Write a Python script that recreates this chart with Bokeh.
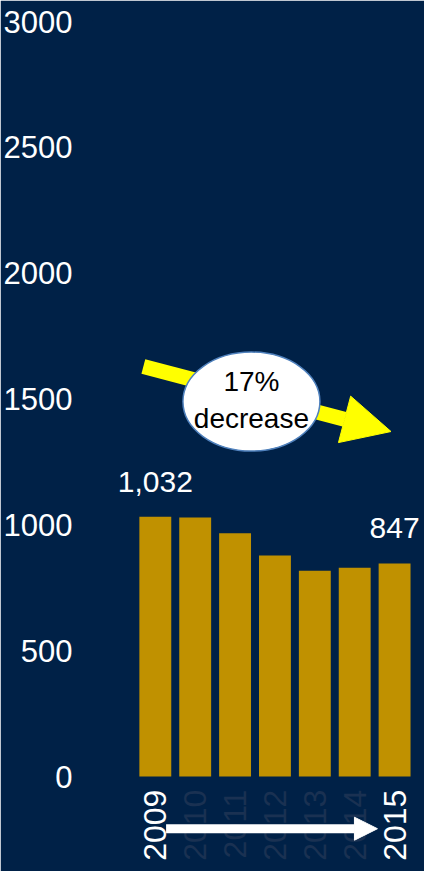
import math
from bokeh.plotting import figure
from bokeh.models import ColumnDataSource, Range1d, FixedTicker, Arrow, NormalHead
from bokeh.core.properties import value
from bokeh.embed import file_html
from bokeh.resources import INLINE

# ---- data ----
years = ["2009", "2010", "2011", "2012", "2013", "2014", "2015"]
counts = [1032, 1029, 967, 878, 818, 830, 847]
highlight = [True, False, False, False, False, False, True]
y_ticks = [0, 500, 1000, 1500, 2000, 2500, 3000]
callout_text = "17%\ndecrease"

BG = "#002147"
GOLD = "#C09100"
DIM = "#1a3152"
FONT = "Liberation Sans"

idx = list(range(len(years)))
src = ColumnDataSource(dict(
    x=idx, top=counts, year=years,
    ycol=["white" if h else DIM for h in highlight],
    vlabel=[f"{c:,}" if h else "" for c, h in zip(counts, highlight)],
))

p = figure(width=424, height=871, output_backend="svg", toolbar_location=None,
           x_range=Range1d(-1.55, 6.75), y_range=Range1d(-377, 3000),
           min_border_left=90, min_border_right=0, min_border_top=21, min_border_bottom=0)
p.background_fill_color = BG
p.border_fill_color = BG
p.outline_line_color = BG
p.outline_line_width = 3
p.grid.visible = False
p.xaxis.visible = False

ya = p.yaxis[0]
ya.ticker = FixedTicker(ticks=y_ticks)
ya.axis_line_color = None
ya.major_tick_line_color = None
ya.minor_tick_line_color = None
ya.major_label_text_color = "white"
ya.major_label_text_font = FONT
ya.major_label_text_font_size = "31px"
ya.major_label_standoff = 15

# bars
p.vbar(x="x", top="top", width=0.8, source=src, fill_color=GOLD, line_color=None)

# value labels on first / last bars
p.text(x="x", y="top", text="vlabel", source=src, text_color="white",
       text_font=value(FONT), text_font_size="30px", text_align="center",
       text_baseline="alphabetic", y_offset=-35)

# year labels (vertical)
p.text(x="x", y=0, text="year", source=src, text_color="ycol",
       text_font=value(FONT), text_font_size="32px", text_align="right",
       text_baseline="middle", angle=math.pi / 2, y_offset=13)

# yellow trend arrow (behind the callout)
p.add_layout(Arrow(x_start=-0.3, y_start=1629, x_end=5.91, y_end=1371,
                   line_color="#FFFF00", line_width=15, level="underlay",
                   end=NormalHead(size=48, fill_color="#FFFF00", line_color="#FFFF00")))

# callout ellipse
p.ellipse(x=2.41, y=1490, width=137, height=99, width_units="screen", height_units="screen",
          fill_color="white", line_color="#4F81BD", line_width=1.5)
p.text(x=2.41, y=1497, text=[callout_text], text_color="black",
       text_font=value(FONT), text_font_size="28px", text_align="center",
       text_baseline="middle", text_line_height=1.2)

# white time arrow (on top of the year labels)
p.add_layout(Arrow(x_start=0.27, y_start=-207, x_end=5.57, y_end=-207,
                   line_color="white", line_width=9,
                   end=NormalHead(size=23, fill_color="white", line_color="white")))

open("out.html", "w").write(file_html(p, INLINE))
